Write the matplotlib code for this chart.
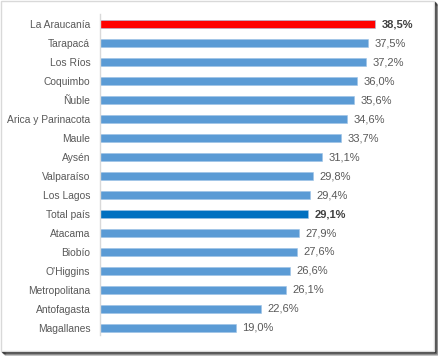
import matplotlib.pyplot as plt
from matplotlib.patches import Rectangle

# --- Data ---
regions = ['La Araucanía', 'Tarapacá', 'Los Ríos', 'Coquimbo', 'Ñuble',
           'Arica y Parinacota', 'Maule', 'Aysén', 'Valparaíso', 'Los Lagos',
           'Total país', 'Atacama', 'Biobío', "O'Higgins", 'Metropolitana',
           'Antofagasta', 'Magallanes']
values = [38.5, 37.5, 37.2, 36.0, 35.6, 34.6, 33.7, 31.1, 29.8, 29.4,
          29.1, 27.9, 27.6, 26.6, 26.1, 22.6, 19.0]
highlight = {'La Araucanía': '#FF0000', 'Total país': '#0070C0'}

W, H = 439, 356
fig = plt.figure(figsize=(W / 100, H / 100), dpi=100)
fig.patch.set_facecolor('white')

# frame with drop shadow, like a pasted screenshot
for i, a in enumerate([0.75, 0.55, 0.35, 0.18]):
    fig.patches.append(Rectangle(((1 + i + 1) / W, (H - 351 - i - 1) / H),
                                 (433 / W), (350 / H), transform=fig.transFigure,
                                 facecolor='none', edgecolor='black', alpha=a,
                                 linewidth=1, zorder=0))
fig.patches.append(Rectangle((1 / W, (H - 351) / H), 433 / W, 350 / H,
                             transform=fig.transFigure, facecolor='white',
                             edgecolor='#d9d9d9', linewidth=1, zorder=1))

ax = fig.add_axes([100 / W, (H - 335) / H, 320 / W, 321 / H])
ax.set_zorder(2)
ax.patch.set_alpha(0)

ypos = list(range(len(regions)))
colors = [highlight.get(r, '#5B9BD5') for r in regions]
ax.barh(ypos, values, height=0.38, color=colors, edgecolor='#9DC3E6',
        linewidth=0.4)

for y, v, r in zip(ypos, values, regions):
    bold = r in highlight
    ax.text(v + 0.9, y, f'{v:.1f}%'.replace('.', ','), va='center', ha='left',
            fontsize=8, color='#404040' if bold else '#595959',
            fontweight='bold' if bold else 'normal', family='Liberation Sans')

ax.set_yticks(ypos)
ax.set_yticklabels(regions, fontsize=7.4, color='#595959', family='Liberation Sans')
ax.set_ylim(16.37, -0.53)
ax.set_xlim(0, 44.8)
ax.set_xticks([])
ax.tick_params(axis='y', length=0, pad=7)
for s in ['top', 'right', 'bottom']:
    ax.spines[s].set_visible(False)
ax.spines['left'].set_color('#d9d9d9')
ax.spines['left'].set_linewidth(1)

fig.savefig('out.png', dpi=100)
